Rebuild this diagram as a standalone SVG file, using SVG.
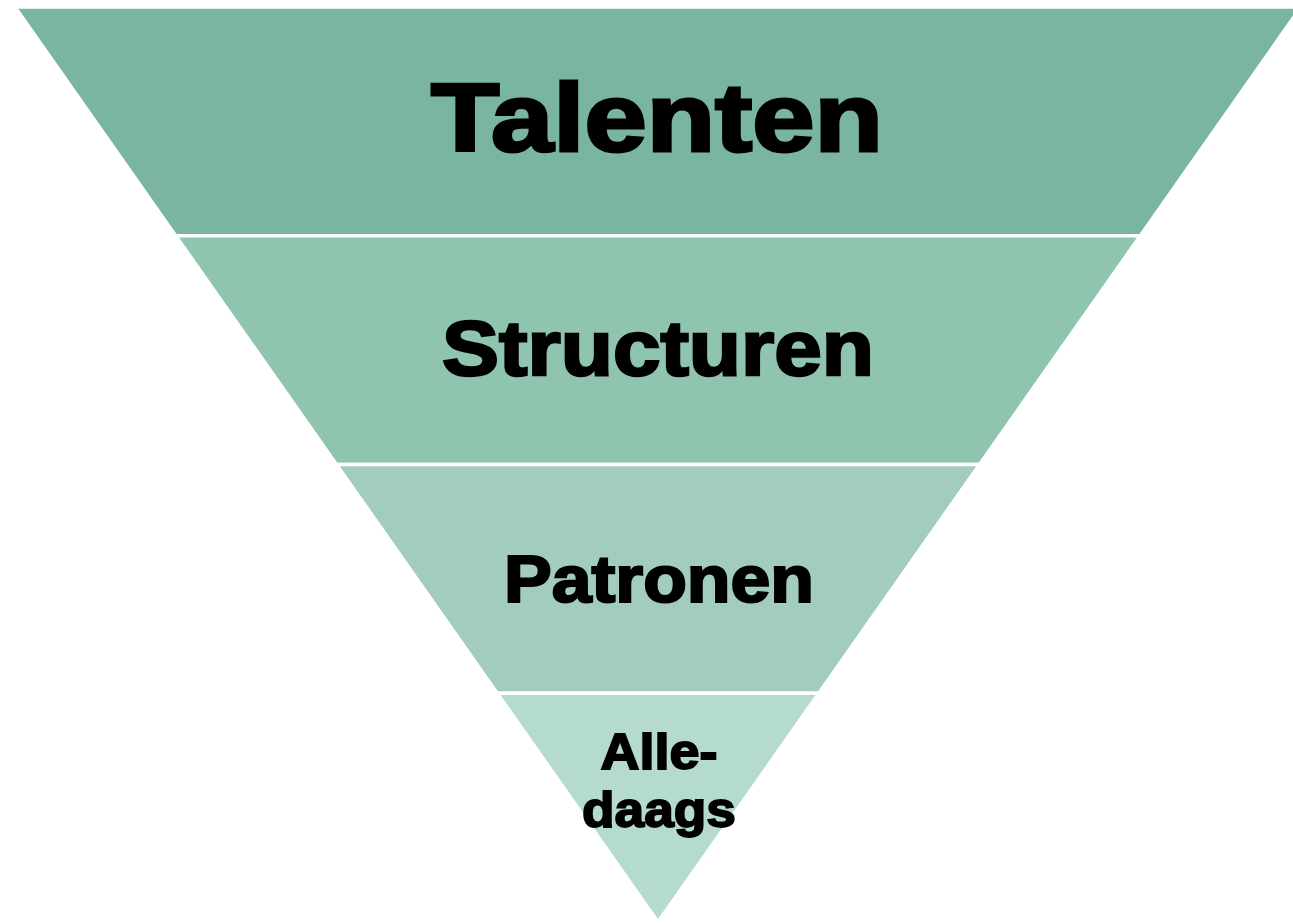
<svg xmlns="http://www.w3.org/2000/svg" width="1293" height="923" viewBox="0 0 1293 923">
<style>
.band{stroke:#ffffff;stroke-width:3.5;stroke-linejoin:miter}
.lbl{font-family:"Liberation Sans",Arial,sans-serif;font-weight:900;fill:#000;stroke:#000;text-anchor:middle}
</style>
<rect width="1293" height="923" fill="#ffffff"/>
<g id="band-talenten">
<polygon class="band" fill="#7AB5A0" points="15,7 1301,7 1140.3,235.75 175.7,235.75"/>
<text class="lbl" x="657" y="151" font-size="96" stroke-width="3" textLength="452" lengthAdjust="spacingAndGlyphs">Talenten</text>
</g>
<g id="band-structuren">
<polygon class="band" fill="#8FC4AF" points="175.7,235.75 1140.3,235.75 979.5,464.5 336.5,464.5"/>
<text class="lbl" x="658" y="375" font-size="77" stroke-width="2.5" textLength="432" lengthAdjust="spacingAndGlyphs">Structuren</text>
</g>
<g id="band-patronen">
<polygon class="band" fill="#A2CDBD" points="336.5,464.5 979.5,464.5 818.8,693.25 497.2,693.25"/>
<text class="lbl" x="659" y="602" font-size="66" stroke-width="2.2" textLength="310" lengthAdjust="spacingAndGlyphs">Patronen</text>
</g>
<g id="band-alledaags">
<polygon class="band" fill="#B5DBCD" points="497.2,693.25 818.8,693.25 658,922"/>
<text class="lbl" x="659" y="769" font-size="50" stroke-width="1.8" textLength="117" lengthAdjust="spacingAndGlyphs">Alle-</text>
<text class="lbl" x="659" y="827" font-size="50" stroke-width="1.8" textLength="154" lengthAdjust="spacingAndGlyphs">daags</text>
</g>
<g id="connectors"></g>
</svg>
